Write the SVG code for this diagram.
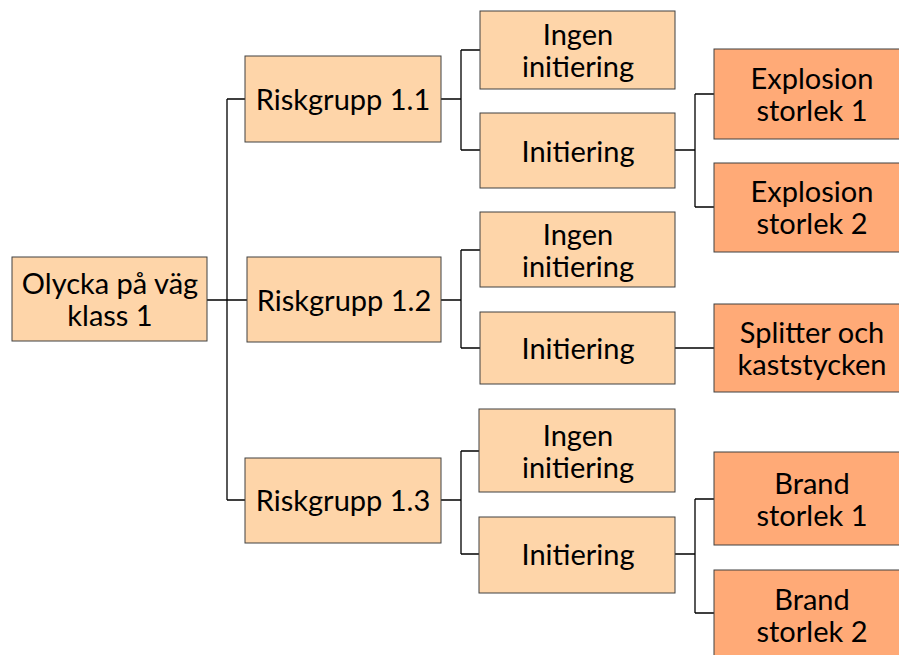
<svg xmlns="http://www.w3.org/2000/svg" width="899" height="655" viewBox="0 0 899 655">
<style>
.l{fill:#FED5A9;stroke:#404040;stroke-width:1}
.d{fill:#FFAA77;stroke:#404040;stroke-width:1}
text{font-family:Lato,"Liberation Sans",sans-serif;font-size:29px;fill:#000;text-anchor:middle}
.c{fill:none;stroke:#000;stroke-width:1.3}
</style>
<rect width="899" height="655" fill="#fff"/>
<g id="connectors">
<path class="c" d="M207 300H227M227 99V500M227 99H245M227 300H247M227 500H245"/>
<path class="c" d="M441 99H461M461 50V150M461 50H480M461 150H480"/>
<path class="c" d="M675 150H695M695 94V207M695 94H714M695 207H714"/>
<path class="c" d="M441 300H461M461 250V348M461 250H480M461 348H480"/>
<path class="c" d="M675 348H714"/>
<path class="c" d="M441 500H461M461 451V554M461 451H480M461 554H480"/>
<path class="c" d="M675 554H695M695 499V613M695 499H714M695 613H714"/>
</g>
<g id="root"><rect class="l" x="12" y="257" width="195" height="84"/><text x="110" y="294">Olycka på väg</text><text x="110" y="326">klass 1</text></g>
<g id="rg11"><rect class="l" x="245" y="56" width="196" height="86"/><text x="343" y="110">Riskgrupp 1.1</text></g>
<g id="rg12"><rect class="l" x="247" y="257" width="194" height="85"/><text x="344" y="311">Riskgrupp 1.2</text></g>
<g id="rg13"><rect class="l" x="245" y="458" width="196" height="85"/><text x="343" y="511">Riskgrupp 1.3</text></g>
<g id="ingen1"><rect class="l" x="480" y="11" width="195" height="78"/><text x="578" y="45">Ingen</text><text x="578" y="77">initiering</text></g>
<g id="init1"><rect class="l" x="480" y="113" width="195" height="75"/><text x="578" y="162">Initiering</text></g>
<g id="ingen2"><rect class="l" x="480" y="212" width="195" height="75"/><text x="578" y="245">Ingen</text><text x="578" y="277">initiering</text></g>
<g id="init2"><rect class="l" x="480" y="312" width="195" height="72"/><text x="578" y="359">Initiering</text></g>
<g id="ingen3"><rect class="l" x="479" y="409" width="196" height="83"/><text x="578" y="446">Ingen</text><text x="578" y="478">initiering</text></g>
<g id="init3"><rect class="l" x="479" y="517" width="196" height="76"/><text x="578" y="565">Initiering</text></g>
<g id="exp1"><rect class="d" x="714" y="49" width="196" height="90"/><text x="812" y="89">Explosion</text><text x="812" y="121">storlek 1</text></g>
<g id="exp2"><rect class="d" x="714" y="163" width="196" height="89"/><text x="812" y="202">Explosion</text><text x="812" y="234">storlek 2</text></g>
<g id="split"><rect class="d" x="714" y="304" width="196" height="88"/><text x="812" y="343">Splitter och</text><text x="812" y="375">kaststycken</text></g>
<g id="brand1"><rect class="d" x="714" y="452" width="196" height="93"/><text x="812" y="494">Brand</text><text x="812" y="526">storlek 1</text></g>
<g id="brand2"><rect class="d" x="714" y="570" width="196" height="95"/><text x="812" y="610">Brand</text><text x="812" y="642">storlek 2</text></g>
</svg>
